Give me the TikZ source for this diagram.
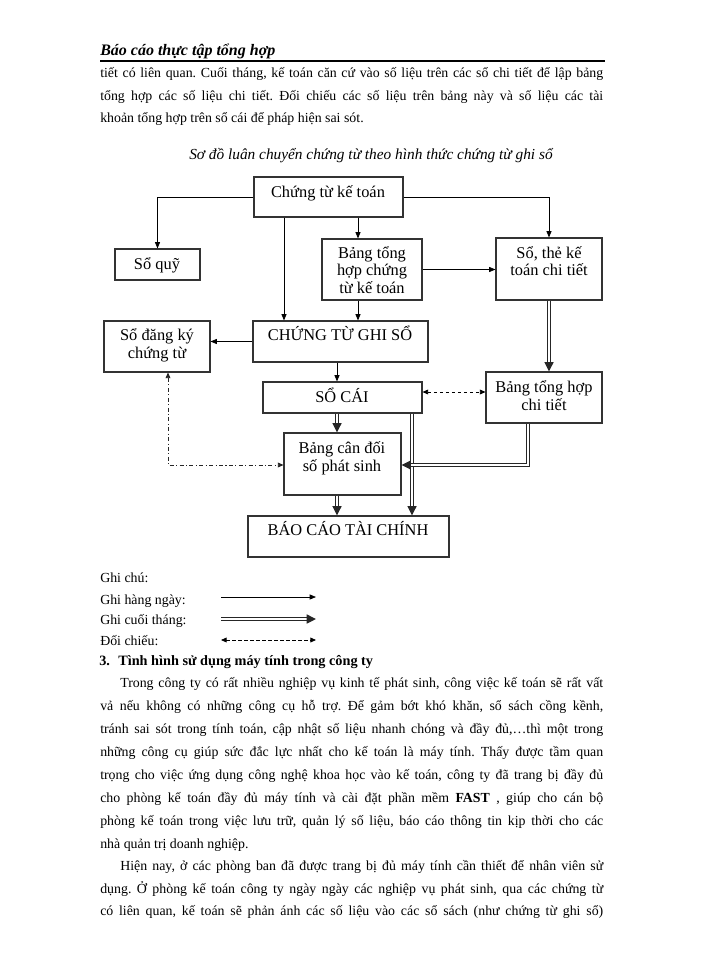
\documentclass[tikz,border=0pt]{standalone}
\usepackage{fontspec}
\setmainfont{Liberation Serif}
\usetikzlibrary{arrows.meta}
\frenchspacing
\newdimen\pxunit \pxunit=0.75pt
\newcommand\bodyfont{\fontsize{10.4}{12}\selectfont}
\newcommand\diafont{\fontsize{12.3}{14}\selectfont}
\newcommand\jline[4]{\node[txt] (#1) at (#2) {\hbox to #3\pxunit{#4}};}
\newcommand\pline[3]{\node[txt] (#1) at (#2) {#3};}
\newcommand\blbl[3]{\node[lbl] (#1) at (#2) {#3};}
\tikzset{
  txt/.style={anchor=base west, inner sep=0pt, font=\bodyfont},
  lbl/.style={anchor=base, inner sep=0pt, font=\diafont},
  box/.style={draw=black!80, line width=0.8pt, inner sep=0pt, fill=white},
  thin/.style={draw=black, line width=0.6pt, -{Triangle[length=4.8pt,width=3.8pt]}},
  dbl/.style={draw=black!85, line width=0.85pt, double=white, double distance=1.2pt, line join=miter, -{Triangle[length=7pt,width=6.8pt]}},
  dsh/.style={draw=black, line width=0.6pt, dash pattern=on 2.5pt off 2pt, {Triangle[length=4.2pt,width=3.6pt]}-{Triangle[length=4.2pt,width=3.6pt]}},
  dshdot/.style={draw=black!85, line width=0.6pt, dash pattern=on 3pt off 1.8pt on 0.8pt off 1.8pt, {Triangle[length=4.2pt,width=3.6pt]}-{Triangle[length=4.2pt,width=3.6pt]}},
}
\begin{document}
\begin{tikzpicture}[x=0.75pt,y=-0.75pt]
\useasboundingbox (0,0) rectangle (700,960);
\fill[white] (0,0) rectangle (700,960);

% header
\node[anchor=base west, inner sep=0pt, font=\fontsize{12}{14}\selectfont\bfseries\itshape] (hdr) at (100,55) {Báo cáo thực tập tổng hợp};
\draw[line width=1.2pt] (100,61) -- (605,61);

% top paragraph
\jline{p1}{100,77}{503}{tiết có liên quan. Cuối tháng, kế toán căn cứ vào số liệu trên các sổ chi tiết để lập bảng}
\jline{p2}{100,100}{503}{tổng hợp các số liệu chi tiết. Đối chiếu các số liệu trên bảng này và số liệu các tài}
\pline{p3}{100,122}{khoản tổng hợp trên sổ cái để pháp hiện sai sót.}

% caption
\node[anchor=base, inner sep=0pt, font=\fontsize{11.5}{13}\selectfont\itshape] (cap) at (371,159) {Sơ đồ luân chuyển chứng từ theo hình thức chứng từ ghi sổ};

% boxes
\node[box, minimum width=149\pxunit, minimum height=40\pxunit] (ctkt) at (328.5,197) {};
\node[box, minimum width=85\pxunit, minimum height=31\pxunit] (soquy) at (157.5,264.5) {};
\node[box, minimum width=100\pxunit, minimum height=61\pxunit] (bthct) at (372,269.5) {};
\node[box, minimum width=106\pxunit, minimum height=62\pxunit] (sothe) at (549,269) {};
\node[box, minimum width=175\pxunit, minimum height=41\pxunit] (ctgs) at (340.5,341.5) {};
\node[box, minimum width=106\pxunit, minimum height=51\pxunit] (sodk) at (157,346.5) {};
\node[box, minimum width=159\pxunit, minimum height=31\pxunit] (socai) at (342.5,397.5) {};
\node[box, minimum width=116\pxunit, minimum height=51\pxunit] (bthcti) at (544,397.5) {};
\node[box, minimum width=117\pxunit, minimum height=62\pxunit] (bcd) at (342.5,464) {};
\node[box, minimum width=201\pxunit, minimum height=41\pxunit] (bctc) at (348.5,536.5) {};

% box labels
\blbl{l-ctkt}{328,197}{Chứng từ kế toán}
\blbl{l-soquy}{157,269}{Sổ quỹ}
\blbl{l-bthct1}{372,258}{Bảng tổng}
\blbl{l-bthct2}{372,275.5}{hợp chứng}
\blbl{l-bthct3}{372,293}{từ kế toán}
\blbl{l-sothe1}{549,258}{Sổ, thẻ kế}
\blbl{l-sothe2}{549,275.5}{toán chi tiết}
\blbl{l-ctgs}{340,340}{CHỨNG TỪ GHI SỔ}
\blbl{l-sodk1}{157,340}{Sổ đăng ký}
\blbl{l-sodk2}{157,358}{chứng từ}
\blbl{l-socai}{342,402}{SỔ CÁI}
\blbl{l-bthcti1}{544,392}{Bảng tổng hợp}
\blbl{l-bthcti2}{544,410}{chi tiết}
\blbl{l-bcd1}{342,453}{Bảng cân đối}
\blbl{l-bcd2}{342,471}{số phát sinh}
\blbl{l-bctc}{348,535}{BÁO CÁO TÀI CHÍNH}

% helper coordinates
\coordinate (x358) at (358,0);
\coordinate (x284) at (284,0);
\coordinate (x337) at (337,0);
\coordinate (x412) at (412,0);
\coordinate (y392) at (0,392);
\coordinate (c13) at (528,465);
\coordinate (c14) at (168,465);

% connectors
\draw[thin] (ctkt.west) -| (soquy.north);
\draw[thin] (ctkt.east) -| (sothe.north);
\draw[thin] (ctkt.south -| x358) -- (bthct.north -| x358);
\draw[thin] (ctkt.south -| x284) -- (ctgs.north -| x284);
\draw[thin] (bthct.south -| x358) -- (ctgs.north -| x358);
\draw[thin] (bthct.east) -- (bthct.east -| sothe.west);
\draw[thin] (ctgs.west) -- (ctgs.west -| sodk.east);
\draw[thin] (ctgs.south -| x337) -- (socai.north -| x337);
\draw[dbl] (sothe.south) -- (sothe.south |- bthcti.north);
\draw[dsh] (socai.east |- y392) -- (bthcti.west |- y392);
\draw[dbl] (socai.south -| x337) -- (bcd.north -| x337);
\draw[dbl] (socai.south -| x412) -- (bctc.north -| x412);
\draw[dbl] (bthcti.south -| c13) -- (c13) -- (c13 -| bcd.east);
\draw[dshdot] (sodk.south -| c14) -- (c14) -- (c14 -| bcd.west);
\draw[dbl] (bcd.south -| x337) -- (bctc.north -| x337);

% legend
\pline{g0}{100,582}{Ghi chú:}
\pline{g1}{100,604}{Ghi hàng ngày:}
\pline{g2}{100,624}{Ghi cuối tháng:}
\pline{g3}{100,645}{Đối chiếu:}
\coordinate (la1) at (221,597); \coordinate (lb1) at (316,597);
\coordinate (la2) at (221,619); \coordinate (lb2) at (316,619);
\coordinate (la3) at (221,640); \coordinate (lb3) at (316,640);
\draw[thin] (la1) -- (lb1);
\draw[dbl] (la2) -- (lb2);
\draw[dsh] (la3) -- (lb3);

% section heading
\node[anchor=base west, inner sep=0pt, font=\fontsize{10.7}{12}\selectfont\bfseries] (h3n) at (99,665) {3.};
\node[anchor=base west, inner sep=0pt, font=\fontsize{10.7}{12}\selectfont\bfseries] (h3) at (118,665) {Tình hình sử dụng máy tính trong công ty};

% body
\jline{b1}{120,687}{483}{Trong công ty có rất nhiều nghiệp vụ kinh tế phát sinh, công việc kế toán sẽ rất vất}
\jline{b2}{100,710}{503}{vả nếu không có những công cụ hỗ trợ. Để gảm bớt khó khăn, sổ sách cồng kềnh,}
\jline{b3}{100,733}{503}{tránh sai sót trong tính toán, cập nhật số liệu nhanh chóng và đầy đủ,…thì một trong}
\jline{b4}{100,756}{503}{những công cụ giúp sức đắc lực nhất cho kế toán là máy tính. Thấy được tầm quan}
\jline{b5}{100,779}{503}{trọng cho việc ứng dụng công nghệ khoa học vào kế toán, công ty đã trang bị đầy đủ}
\jline{b6}{100,802}{503}{cho phòng kế toán đầy đủ máy tính và cài đặt phần mềm \textbf{FAST} , giúp cho cán bộ}
\jline{b7}{100,825}{503}{phòng kế toán trong việc lưu trữ, quản lý số liệu, báo cáo thông tin kịp thời cho các}
\pline{b8}{100,848}{nhà quản trị doanh nghiệp.}
\jline{b9}{120,870}{483}{Hiện nay, ở các phòng ban đã được trang bị đủ máy tính cần thiết để nhân viên sử}
\jline{b10}{100,893}{503}{dụng. Ở phòng kế toán công ty ngày ngày các nghiệp vụ phát sinh, qua các chứng từ}
\jline{b11}{100,915}{503}{có liên quan, kế toán sẽ phản ánh các số liệu vào các sổ sách (như chứng từ ghi sổ)}
\end{tikzpicture}
\end{document}
